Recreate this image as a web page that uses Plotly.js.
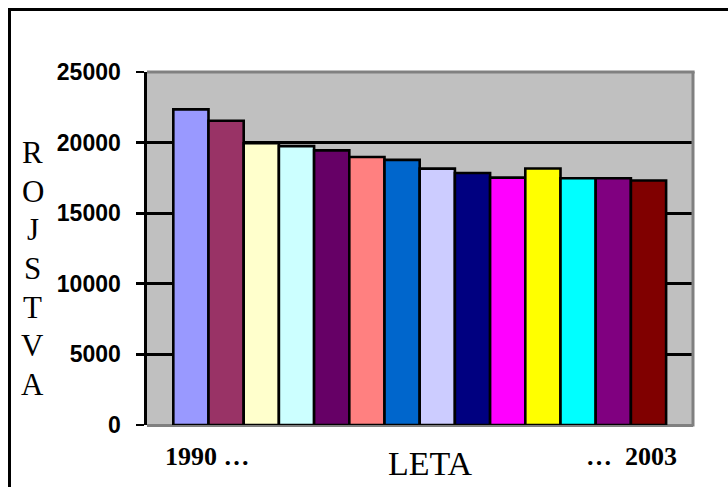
<!DOCTYPE html>
<html>
<head>
<meta charset="utf-8">
<script src="https://cdn.plot.ly/plotly-3.0.1.min.js"></script>
<style>
  html, body { margin: 0; padding: 0; background: #fff; }
  #wrap { position: relative; width: 728px; height: 487px; overflow: hidden; }
  #chart { width: 728px; height: 487px; }
  #frame {
    position: absolute; left: 8px; top: 8px; width: 740px; height: 500px;
    border-left: 3px solid #000; border-top: 3px solid #000;
    pointer-events: none;
  }
</style>
</head>
<body>
<div id="wrap">
  <div id="chart"></div>
  <div id="frame"></div>
</div>
<script>
// Live births per year (ROJSTVA), 1990-2003
const years = [1990, 1991, 1992, 1993, 1994, 1995, 1996, 1997, 1998, 1999, 2000, 2001, 2002, 2003];
const births = [22350, 21550, 19950, 19750, 19450, 18980, 18780, 18160, 17850, 17520, 18170, 17480, 17480, 17320];
const barColors = ['#9999FF', '#993366', '#FFFFCC', '#CCFFFF', '#660066', '#FF8080', '#0066CC',
                   '#CCCCFF', '#000080', '#FF00FF', '#FFFF00', '#00FFFF', '#800080', '#800000'];
const yTicks = [0, 5000, 10000, 15000, 20000, 25000];
const yTitle = 'ROJSTVA';
const xTitle = 'LETA';

const serif = 'Liberation Serif, Times New Roman, serif';
const sans = 'Liberation Sans, Arial, sans-serif';

const trace = {
  type: 'bar',
  x: years,
  y: births,
  width: 1,
  marker: { color: barColors, line: { color: '#000', width: 2.6 } },
  hoverinfo: 'x+y'
};

// vertical axis caption, one letter per row
const letterTop = 0.772, letterStep = 0.1095;
const letters = yTitle.split('').map((ch, i) => ({
  text: ch, xref: 'paper', yref: 'paper', x: -0.209, y: letterTop - i * letterStep,
  xanchor: 'center', yanchor: 'middle', showarrow: false,
  font: { family: serif, size: 31, color: '#000' }
}));

const annotations = letters.concat([
  { text: years[0] + ' …', xref: 'paper', yref: 'paper', x: 0.11, y: -0.09,
    xanchor: 'center', yanchor: 'middle', showarrow: false,
    font: { family: serif, size: 26, color: '#000', weight: 700 } },
  { text: '…  ' + years[years.length - 1], xref: 'paper', yref: 'paper', x: 0.888, y: -0.09,
    xanchor: 'center', yanchor: 'middle', showarrow: false,
    font: { family: serif, size: 26, color: '#000', weight: 700 } },
  { text: xTitle, xref: 'paper', yref: 'paper', x: 0.52, y: -0.108,
    xanchor: 'center', yanchor: 'middle', showarrow: false,
    font: { family: serif, size: 34, color: '#000' } }
]);

const layout = {
  width: 728, height: 487,
  margin: { l: 147, r: 35, t: 72, b: 62 },
  paper_bgcolor: '#FFFFFF',
  plot_bgcolor: '#C0C0C0',
  showlegend: false,
  bargap: 0,
  xaxis: {
    range: [1988.753, 2004.264],
    showticklabels: false, ticks: '', showgrid: false, zeroline: false, showline: false,
    fixedrange: true
  },
  yaxis: {
    range: [0, 25000],
    tickmode: 'array', tickvals: yTicks, ticktext: yTicks.map(String),
    tickfont: { family: sans, size: 23, color: '#000', weight: 700 },
    ticks: 'outside', ticklen: 8, tickwidth: 2.6, tickcolor: '#000',
    ticklabelstandoff: 11,
    showline: true, linecolor: '#000', linewidth: 2.6,
    showgrid: true, gridcolor: '#000', gridwidth: 2.6,
    zeroline: true, zerolinecolor: '#808080', zerolinewidth: 3,
    fixedrange: true
  },
  shapes: [
    { type: 'line', xref: 'paper', yref: 'paper', x0: 0, x1: 1.003, y0: 1, y1: 1,
      line: { color: '#808080', width: 3 }, layer: 'above' },
    { type: 'line', xref: 'paper', yref: 'paper', x0: 1, x1: 1, y0: -0.004, y1: 1,
      line: { color: '#808080', width: 3 }, layer: 'above' }
  ],
  annotations: annotations
};

Plotly.newPlot('chart', [trace], layout, { displayModeBar: false, staticPlot: true });
</script>
</body>
</html>
